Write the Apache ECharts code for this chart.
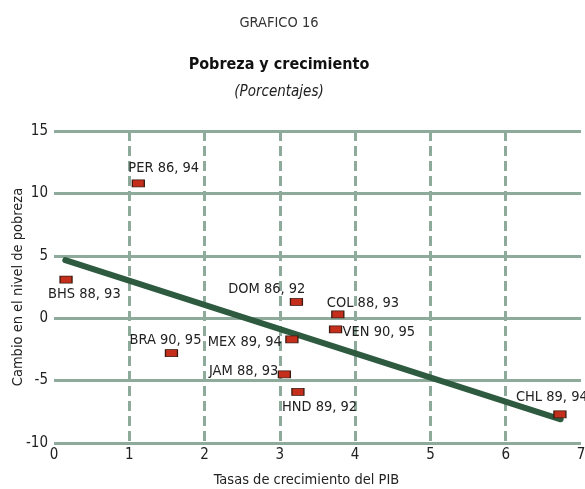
<!DOCTYPE html>
<html>
<head>
<meta charset="utf-8">
<script src="https://cdn.jsdelivr.net/npm/echarts@6/dist/echarts.min.js"></script>
<style>
html,body{margin:0;padding:0;background:#fff;}
#chart{width:585px;height:489px;}
</style>
</head>
<body>
<div id="chart"></div>
<script>
// Data
var countries = ['PER 86, 94','BHS 88, 93','DOM 86, 92','COL 88, 93','VEN 90, 95','MEX 89, 94','BRA 90, 95','JAM 88, 93','HND 89, 92','CHL 89, 94'];
var growth    = [1.12, 0.16, 3.22, 3.77, 3.74, 3.16, 1.56, 3.06, 3.24, 6.72];
var povertyChange = [10.8, 3.1, 1.3, 0.3, -0.9, -1.7, -2.8, -4.5, -5.9, -7.7];
var trendX = [0.15, 6.73];
var trendY = [4.65, -8.1];
var xTicks = [0,1,2,3,4,5,6,7];
var yTicks = [-10,-5,0,5,10,15];

// Label placement (style, not data): [align, dx, dy]
var labelPlace = {
  'PER 86, 94': ['left', -10, -15],
  'BHS 88, 93': ['left', -18, 15],
  'DOM 86, 92': ['right', 9, -13],
  'COL 88, 93': ['left', -11, -11],
  'VEN 90, 95': ['left', 7, 3],
  'MEX 89, 94': ['right', -10, 3],
  'BRA 90, 95': ['right', 30, -13],
  'JAM 88, 93': ['right', -6, -3],
  'HND 89, 92': ['left', -16, 15],
  'CHL 89, 94': ['left', -44, -17]
};

var FONT = '"DejaVu Sans Condensed", "Liberation Sans Narrow", sans-serif';
var TXT = '#222';
var GRIDC = '#8eaa9a';

var scatterData = countries.map(function (c, i) {
  var p = labelPlace[c];
  return {
    value: [growth[i], povertyChange[i]],
    name: c,
    label: { align: p[0], offset: [p[1], p[2]] }
  };
});

var chart = echarts.init(document.getElementById('chart'), null, {renderer: 'canvas'});
chart.setOption({
  animation: false,
  backgroundColor: '#fff',
  textStyle: { fontFamily: FONT },
  title: [
    { text: 'GRAFICO 16', left: 274, top: 11, textAlign: 'center',
      textStyle: { fontFamily: FONT, fontSize: 14.5, fontWeight: 'normal', color: '#333' } },
    { text: 'Pobreza y crecimiento', left: 274, top: 52, textAlign: 'center',
      textStyle: { fontFamily: FONT, fontSize: 16, fontWeight: 'bold', color: '#111' } },
    { text: '(Porcentajes)', left: 274, top: 80, textAlign: 'center',
      textStyle: { fontFamily: FONT, fontSize: 15, fontStyle: 'italic', fontWeight: 'normal', color: '#222' } }
  ],
  grid: { left: 54, right: 4, top: 131, bottom: 46, containLabel: false, outerBoundsMode: 'none' },
  xAxis: {
    type: 'value', min: xTicks[0], max: xTicks[xTicks.length-1], interval: 1,
    name: 'Tasas de crecimiento del PIB', nameLocation: 'middle', nameGap: 30,
    nameMoveOverlap: false,
    nameTextStyle: { fontFamily: FONT, fontSize: 14.5, color: TXT, padding: [0, 22, 0, 0] },
    axisLine: { show: false }, axisTick: { show: false },
    axisLabel: { fontFamily: FONT, fontSize: 15, color: TXT, margin: 5 },
    splitLine: { show: true, showMinLine: false, showMaxLine: false,
      lineStyle: { color: GRIDC, width: 3, type: [10, 5] } }
  },
  yAxis: {
    type: 'value', min: yTicks[0], max: yTicks[yTicks.length-1], interval: 5,
    name: 'Cambio en el nivel de pobreza', nameLocation: 'middle', nameGap: 28,
    nameRotate: 90, nameMoveOverlap: false,
    nameTextStyle: { fontFamily: FONT, fontSize: 14.5, color: TXT },
    axisLine: { show: false }, axisTick: { show: false },
    axisLabel: { fontFamily: FONT, fontSize: 15, color: TXT, margin: 6 },
    splitLine: { show: true, lineStyle: { color: GRIDC, width: 3, type: 'solid' } }
  },
  series: [
    {
      type: 'line',
      data: trendX.map(function (x, i) { return [x, trendY[i]]; }),
      showSymbol: false, symbol: 'none',
      lineStyle: { color: '#2e5b40', width: 6, cap: 'round' },
      z: 3
    },
    {
      type: 'scatter',
      data: scatterData,
      symbol: 'rect', symbolSize: [12, 7],
      itemStyle: { color: '#c62e1c', borderColor: '#3a1a10', borderWidth: 1, opacity: 1 },
      label: {
        show: true, position: 'inside', verticalAlign: 'middle',
        formatter: '{b}', fontFamily: FONT, fontSize: 14.5, color: TXT
      },
      z: 4
    }
  ]
});
</script>
</body>
</html>
